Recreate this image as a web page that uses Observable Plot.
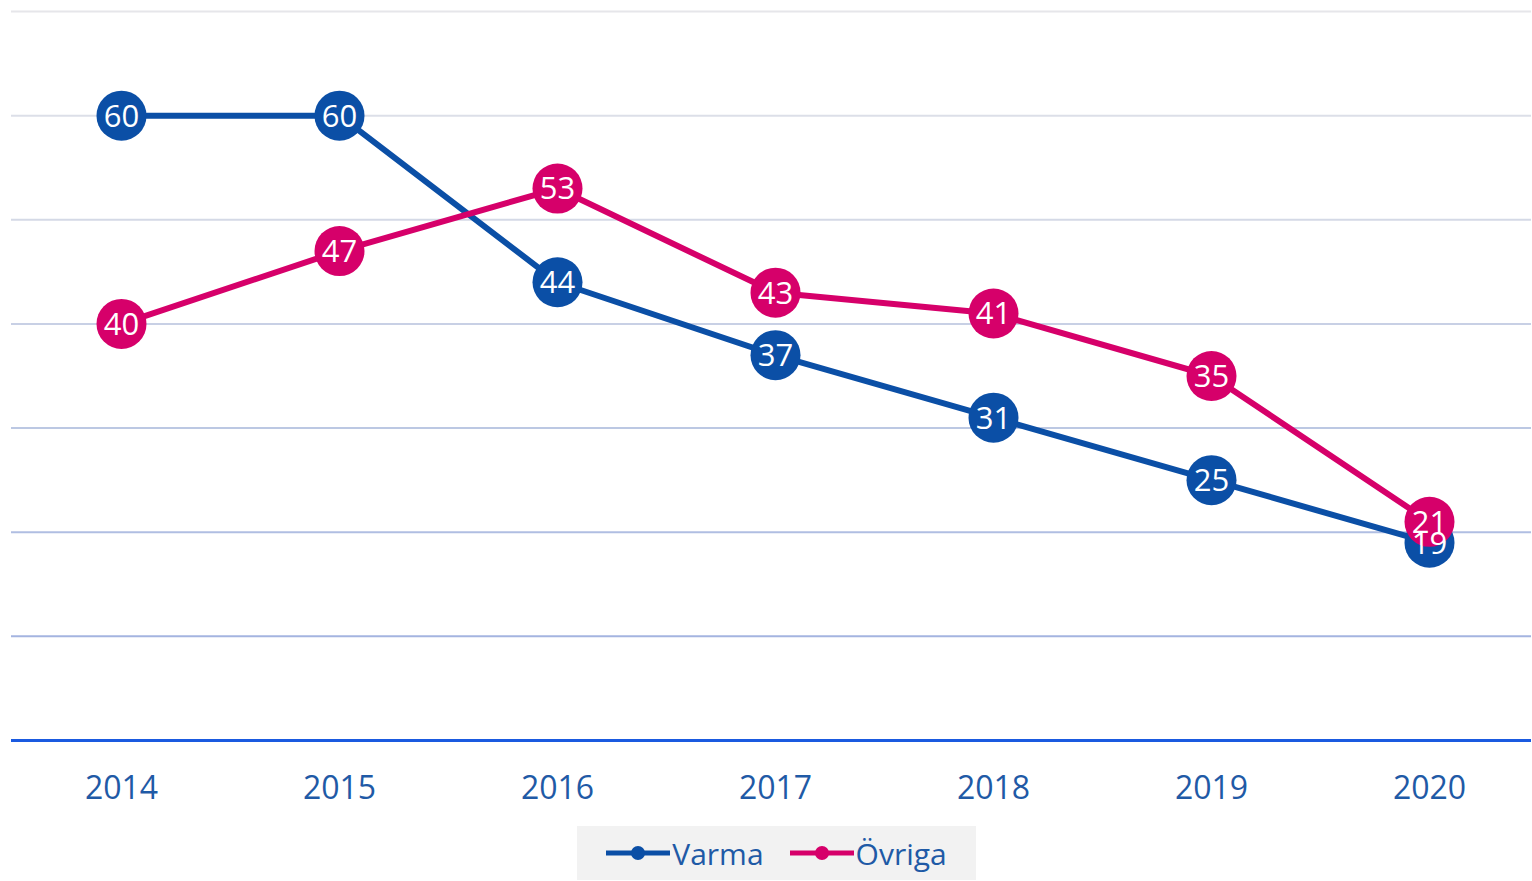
<!DOCTYPE html>
<html>
<head>
<meta charset="utf-8">
<script src="https://cdn.jsdelivr.net/npm/d3@7"></script>
<script src="https://cdn.jsdelivr.net/npm/@observablehq/plot@0.6"></script>
<style>
  html, body { margin: 0; padding: 0; background: #fff; }
  #chart { width: 1532px; height: 820px; }
  #legend {
    position: absolute; left: 577px; top: 826px; width: 399px; height: 54px;
    background: #f2f2f2; display: flex; align-items: center; justify-content: center;
    font-family: "Open Sans", sans-serif; font-size: 30px; color: #1f5aa6; gap: 26px;
  }
  .item { display: flex; align-items: center; }
  .item svg { margin-right: 2px; }
</style>
</head>
<body>
<div id="chart"></div>
<div id="legend"></div>
<script>
const years = ["2014", "2015", "2016", "2017", "2018", "2019", "2020"];
const varma = [60, 60, 44, 37, 31, 25, 19];
const ovriga = [40, 47, 53, 43, 41, 35, 21];
const seriesNames = ["Varma", "Övriga"];
const seriesColors = ["#0b4fa6", "#d6006a"];
const gridValues = [10, 20, 30, 40, 50, 60, 70];
const gridColors = ["#a4b4e0", "#b0bee2", "#bcc8e3", "#c8d0e5", "#d4d9e6", "#dcdfe8", "#e6e6ea"];

const dataV = years.map((y, i) => ({year: y, value: varma[i]}));
const dataO = years.map((y, i) => ({year: y, value: ovriga[i]}));
const grid = gridValues.map((v, i) => ({v, c: gridColors[i]}));

const lineW = 6, r = 25;
const plot = Plot.plot({
  width: 1532,
  height: 820,
  marginLeft: 11,
  marginRight: 1,
  marginTop: 11,
  marginBottom: 80,
  style: {fontFamily: "Open Sans, sans-serif", background: "#fff"},
  x: {type: "point", domain: years, range: [119, 1431], padding: 0, label: null},
  y: {domain: [0, 70], label: null, axis: null},
  marks: [
    Plot.ruleY(grid, {y: "v", stroke: "c", strokeWidth: 2}),
    Plot.ruleY([0], {stroke: "#1a5ae0", strokeWidth: 3}),
    Plot.axisX({tickSize: 0, tickPadding: 36, fontSize: 32, color: "#1f5aa6", fill: "#1f5aa6", label: null}),
    Plot.line(dataV, {x: "year", y: "value", stroke: seriesColors[0], strokeWidth: lineW}),
    Plot.dot(dataV, {x: "year", y: "value", r, fill: seriesColors[0], stroke: null}),
    Plot.line(dataO, {x: "year", y: "value", stroke: seriesColors[1], strokeWidth: lineW}),
    Plot.dot(dataO, {x: "year", y: "value", r, fill: seriesColors[1], stroke: null}),
    Plot.text(dataV, {x: "year", y: "value", text: d => String(d.value), fill: "white", fontSize: 31, dy: 1}),
    Plot.text(dataO, {x: "year", y: "value", text: d => String(d.value), fill: "white", fontSize: 31, dy: 1})
  ]
});
document.getElementById("chart").appendChild(plot);

const legend = document.getElementById("legend");
seriesNames.forEach((name, i) => {
  const item = document.createElement("div");
  item.className = "item";
  item.innerHTML = `<svg width="64" height="20"><line x1="0" y1="10" x2="64" y2="10" stroke="${seriesColors[i]}" stroke-width="5"/><circle cx="32" cy="10" r="7" fill="${seriesColors[i]}"/></svg><span>${name}</span>`;
  legend.appendChild(item);
});
</script>
</body>
</html>
